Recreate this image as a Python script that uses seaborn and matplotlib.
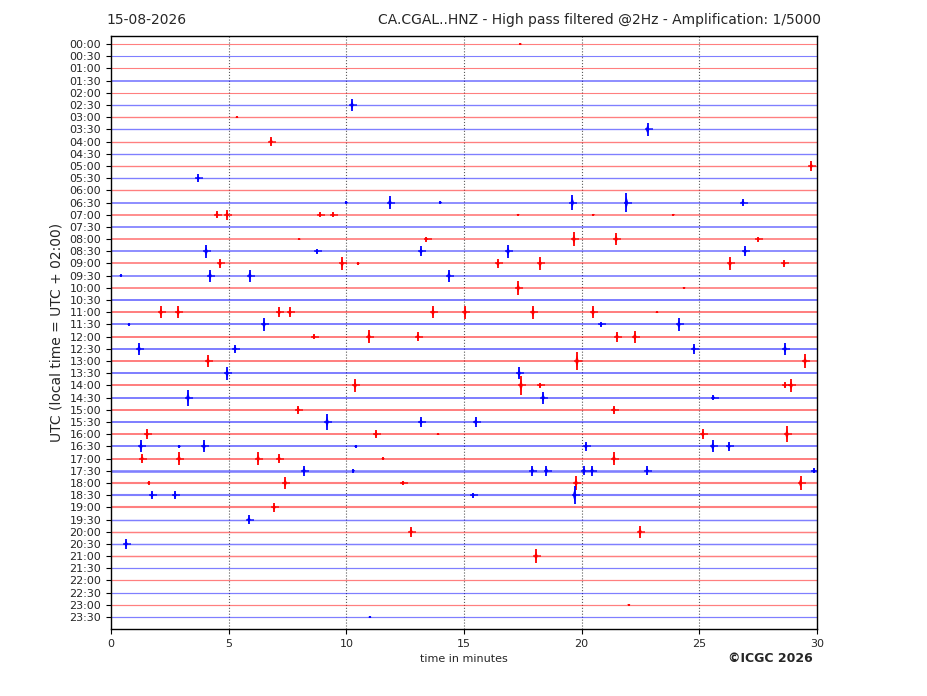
import numpy as np
import pandas as pd
import matplotlib
matplotlib.use("Agg")
import matplotlib.pyplot as plt
import seaborn as sns

# ---- data read from the helicorder ----
row_labels = ["%02d:%02d" % (h, m) for h in range(24) for m in (0, 30)]

# background noise level for each 30-min trace (0 = quiet)
noise = [0.0, 0.0, 0.0, 0.5, 0.0, 0.2, 0.2, 0.2, 0.2, 0.2, 0.2, 0.2, 0.2,
         0.5, 0.5, 0.5, 0.5, 0.5, 0.5, 0.5, 0.5,
         0.7, 0.7, 0.7, 0.7, 0.7, 0.7, 0.7, 0.7, 0.7, 0.7, 0.7, 0.7, 0.7, 0.7,
         1.2, 0.8, 0.8, 0.8,
         0.3, 0.3, 0.3, 0.3, 0.1, 0.1, 0.1, 0.1, 0.1]

# events: trace index, minute in trace, half amplitude (in trace spacings)
ev_row = [0, 5, 6, 7, 8, 10, 11,
          13, 13, 13, 13, 13, 13,
          14, 14, 14, 14, 14, 14, 14,
          16, 16, 16, 16, 16,
          17, 17, 17, 17, 17,
          18, 18, 18, 18, 18, 18, 18,
          19, 19, 19, 19,
          20, 20,
          22, 22, 22, 22, 22, 22, 22, 22, 22,
          23, 23, 23, 23,
          24, 24, 24, 24, 24,
          25, 25, 25, 25,
          26, 26, 26,
          27, 27,
          28, 28, 28, 28, 28,
          29, 29, 29,
          30, 30,
          31, 31, 31,
          32, 32, 32, 32, 32,
          33, 33, 33, 33, 33, 33, 33,
          34, 34, 34, 34, 34, 34,
          35, 35, 35, 35, 35, 35, 35, 35,
          36, 36, 36, 36, 36,
          37, 37, 37, 37,
          38, 39, 40, 40, 41, 42, 46, 47]
ev_min = [17.4, 10.24, 5.35, 22.8, 6.8, 29.75, 3.7,
          11.85, 19.6, 21.9, 26.85, 10.0, 14.0,
          4.5, 4.93, 8.88, 9.43, 17.3, 20.5, 23.9,
          13.4, 19.67, 21.46, 27.5, 8.0,
          4.04, 8.75, 13.17, 16.87, 26.94,
          4.63, 9.82, 10.5, 16.44, 18.23, 26.3, 28.6,
          4.21, 5.9, 14.36, 0.42,
          17.3, 24.35,
          2.12, 2.85, 7.14, 7.6, 13.68, 15.04, 17.93, 20.48, 23.2,
          6.5, 20.82, 24.13, 0.76,
          8.62, 10.96, 13.04, 21.5, 22.26,
          1.19, 5.27, 24.77, 28.64,
          4.12, 19.8, 29.49,
          4.93, 17.34,
          10.37, 17.42, 18.23, 28.9, 28.64,
          3.27, 18.36, 25.6,
          7.95, 21.37,
          9.18, 13.17, 15.5,
          1.53, 11.26, 25.15, 28.72, 13.9,
          1.27, 3.95, 20.18, 25.57, 26.26, 2.9, 10.4,
          1.32, 2.89, 6.25, 7.14, 21.37, 11.56,
          8.2, 17.9, 18.5, 20.1, 20.44, 22.78, 29.87, 10.3,
          7.4, 19.76, 29.3, 12.4, 1.6,
          1.74, 2.72, 15.38, 19.7,
          6.93, 5.86, 12.75, 22.48, 0.64, 18.06, 22.0, 11.0]
ev_amp = [0.1, 0.5, 0.1, 0.55, 0.4, 0.4, 0.3,
          0.5, 0.65, 0.75, 0.3, 0.15, 0.15,
          0.3, 0.4, 0.2, 0.2, 0.1, 0.1, 0.1,
          0.2, 0.55, 0.5, 0.2, 0.1,
          0.55, 0.2, 0.4, 0.55, 0.4,
          0.4, 0.5, 0.15, 0.35, 0.5, 0.5, 0.25,
          0.5, 0.5, 0.5, 0.1,
          0.55, 0.1,
          0.5, 0.5, 0.4, 0.4, 0.5, 0.55, 0.55, 0.5, 0.1,
          0.5, 0.2, 0.5, 0.1,
          0.2, 0.55, 0.35, 0.4, 0.5,
          0.5, 0.35, 0.4, 0.5,
          0.5, 0.75, 0.55,
          0.55, 0.5,
          0.5, 0.75, 0.2, 0.5, 0.25,
          0.65, 0.5, 0.2,
          0.35, 0.35,
          0.65, 0.4, 0.4,
          0.4, 0.35, 0.4, 0.65, 0.1,
          0.5, 0.5, 0.35, 0.5, 0.35, 0.15, 0.15,
          0.35, 0.5, 0.5, 0.35, 0.5, 0.15,
          0.4, 0.4, 0.4, 0.35, 0.4, 0.35, 0.2, 0.15,
          0.5, 0.55, 0.55, 0.2, 0.15,
          0.35, 0.35, 0.2, 0.75,
          0.35, 0.35, 0.4, 0.5, 0.4, 0.55, 0.1, 0.1]

events = pd.DataFrame({"row": ev_row, "minute": ev_min, "amp": ev_amp})

sns.set_style("ticks")
plt.rcParams['font.family'] = ['DejaVu Sans']

fig = plt.figure(figsize=(9.27, 6.96), dpi=100)
ax = fig.add_axes([111 / 927, 1 - 629 / 696, 706 / 927, 593 / 696])

row_color = ["red" if i % 2 == 0 else "blue" for i in range(48)]

# baseline traces
for i in range(48):
    ax.hlines(i, 0, 30, color=row_color[i], alpha=0.5,
              lw=0.8 + noise[i] * 0.9, zorder=2)

# events: spike plus a spindle
for _, e in events.iterrows():
    r = int(e.row)
    c = row_color[r]
    ax.vlines(e.minute, r - e.amp, r + e.amp, color=c, lw=1.3, zorder=3)
    w = 0.075
    ax.fill([e.minute - w, e.minute, e.minute + w, e.minute],
            [r, r - e.amp * 0.7, r, r + e.amp * 0.7], color=c, lw=0, zorder=3)
    if e.amp > 0.15:
        ax.hlines(r, e.minute - 0.12, e.minute + 0.22, color=c, lw=1.2,
                  alpha=0.8, zorder=3)

for v in [5, 10, 15, 20, 25]:
    ax.axvline(v, color="0.35", ls=":", lw=0.8, zorder=1)

ax.set_xlim(0, 30)
ax.set_ylim(47.98, -0.66)
ax.set_xticks([0, 5, 10, 15, 20, 25, 30])
ax.set_yticks(range(48))
ax.set_yticklabels(row_labels)
ax.tick_params(axis="both", labelsize=8, length=3.5, width=0.8, color="black")
for s in ax.spines.values():
    s.set_color("black")
    s.set_linewidth(1.0)
ax.set_xlabel("time in minutes", fontsize=8)
ax.set_ylabel("UTC (local time = UTC + 02:00)", fontsize=10)

fig.text(106 / 927, 1 - 20 / 696, "15-08-2026", fontsize=10, ha="left", va="center")
fig.text(821 / 927, 1 - 20 / 696,
         "CA.CGAL..HNZ - High pass filtered @2Hz - Amplification: 1/5000",
         fontsize=10, ha="right", va="center")
fig.text(770 / 927, 1 - 658 / 696, "©ICGC 2026", fontsize=9, fontweight="bold",
         ha="center", va="center")

fig.savefig("out.png", dpi=100)
